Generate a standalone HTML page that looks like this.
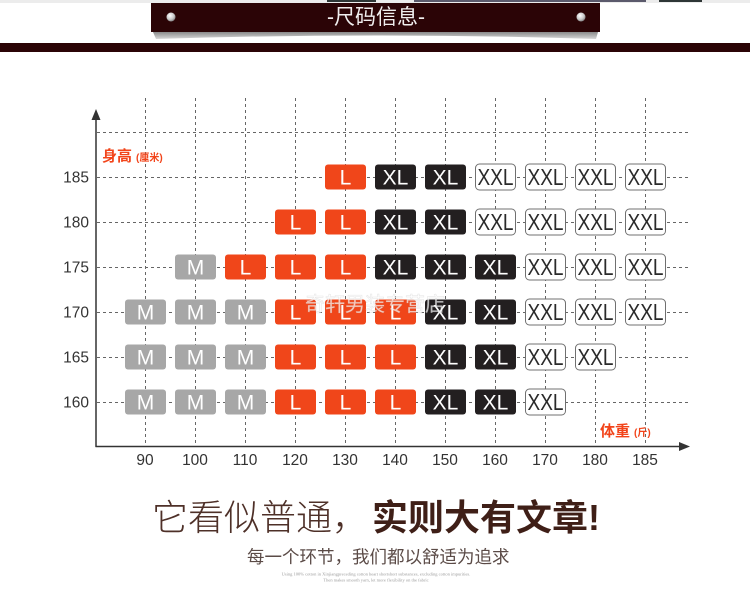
<!DOCTYPE html>
<html><head><meta charset="utf-8"><style>
html,body{margin:0;padding:0;background:#fff;}
#c{position:relative;width:750px;height:600px;overflow:hidden;background:#fff;font-family:"Liberation Sans","Noto Sans CJK SC",sans-serif;}
svg{position:absolute;left:0;top:0;}
.o{fill:#f0461a}.k{fill:#231f20}.g{fill:#a7a7a7}.x{fill:#fff;stroke:#707070;stroke-width:1}
.t{font-family:"Liberation Sans",sans-serif;font-size:21px;text-anchor:middle;fill:#fff}
.tx{font-family:"Liberation Sans",sans-serif;font-size:23px;text-anchor:middle;fill:#2a2a2a}
.lab{font-family:"Liberation Sans",sans-serif;font-size:15.5px;fill:#333}
.abs{position:absolute;white-space:nowrap;line-height:1;}
</style></head><body><div id="c">
<svg width="750" height="600" viewBox="0 0 750 600">
<defs>
<linearGradient id="sh" x1="0" y1="0" x2="0" y2="1"><stop offset="0" stop-color="#8a8a8a"/><stop offset="1" stop-color="#d8d8d8"/></linearGradient>
<radialGradient id="bd" cx="0.4" cy="0.35" r="0.7"><stop offset="0" stop-color="#fff"/><stop offset="0.6" stop-color="#c8c8c8"/><stop offset="1" stop-color="#7a7a7a"/></radialGradient>
</defs>
<rect x="0" y="0" width="750" height="3" fill="#ececec"/>
<rect x="327" y="0" width="49" height="2" fill="#2e3636"/>
<rect x="414" y="0" width="232" height="2" fill="#5b5a6c"/>
<rect x="659" y="0" width="43" height="2" fill="#2e3636"/>
<path d="M153,32 L598,32 L596,39 Q376,32 156,39 Z" fill="url(#sh)"/>
<rect x="151" y="3" width="449" height="29" fill="#2b0406"/>
<circle cx="171" cy="17" r="4.5" fill="url(#bd)"/>
<circle cx="581" cy="17" r="4.5" fill="url(#bd)"/>
<rect x="0" y="43" width="750" height="9" fill="#2b0406"/>

<g stroke="#666" stroke-width="1" stroke-dasharray="3 3" fill="none">
<path d="M97,132.5H688M97,177.5H688M97,222.5H688M97,267.5H688M97,312.5H688M97,357.5H688M97,402.5H688"/>
<path d="M145.5,98V446M195.5,98V446M245.5,98V446M295.5,98V446M345.5,98V446M395.5,98V446M445.5,98V446M495.5,98V446M545.5,98V446M595.5,98V446M645.5,98V446"/>
</g>
<g stroke="#333" stroke-width="1.5">
<line x1="96" y1="115" x2="96" y2="447"/>
<line x1="95.5" y1="446.5" x2="682" y2="446.5"/>
</g>
<polygon points="96,109 91.5,120 100.5,120" fill="#333"/>
<polygon points="690,446.5 679,442 679,451" fill="#333"/>

<g class="lab" text-anchor="end">
<text x="89" y="182.5">185</text>
<text x="89" y="227.5">180</text>
<text x="89" y="272.5">175</text>
<text x="89" y="317.5">170</text>
<text x="89" y="362.5">165</text>
<text x="89" y="407.5">160</text>
</g>
<g class="lab" text-anchor="middle">
<text x="145" y="465">90</text>
<text x="195" y="465">100</text>
<text x="245" y="465">110</text>
<text x="295" y="465">120</text>
<text x="345" y="465">130</text>
<text x="395" y="465">140</text>
<text x="445" y="465">150</text>
<text x="495" y="465">160</text>
<text x="545" y="465">170</text>
<text x="595" y="465">180</text>
<text x="645" y="465">185</text>
</g>
<text x="102" y="161" font-family="Liberation Sans,Noto Sans CJK SC,sans-serif" font-size="15" font-weight="bold" fill="#f2441a">身高<tspan font-size="10" dx="4">(厘米)</tspan></text>
<text x="600" y="436" font-family="Liberation Sans,Noto Sans CJK SC,sans-serif" font-size="15" font-weight="bold" fill="#f2441a">体重<tspan font-size="10" dx="4">(斤)</tspan></text>

<g transform="translate(345.5,177)"><rect class="o" x="-20.5" y="-12.5" width="41" height="25" rx="3"/><text class="t" y="7.5">L</text></g>
<g transform="translate(395.5,177)"><rect class="k" x="-20.5" y="-12.5" width="41" height="25" rx="3"/><text class="t" y="7.5">XL</text></g>
<g transform="translate(445.5,177)"><rect class="k" x="-20.5" y="-12.5" width="41" height="25" rx="3"/><text class="t" y="7.5">XL</text></g>
<g transform="translate(495.5,177)"><rect class="x" x="-20" y="-13" width="40" height="26" rx="4"/><text class="tx" y="8" textLength="36" lengthAdjust="spacingAndGlyphs" x="0">XXL</text></g>
<g transform="translate(545.5,177)"><rect class="x" x="-20" y="-13" width="40" height="26" rx="4"/><text class="tx" y="8" textLength="36" lengthAdjust="spacingAndGlyphs" x="0">XXL</text></g>
<g transform="translate(595.5,177)"><rect class="x" x="-20" y="-13" width="40" height="26" rx="4"/><text class="tx" y="8" textLength="36" lengthAdjust="spacingAndGlyphs" x="0">XXL</text></g>
<g transform="translate(645.5,177)"><rect class="x" x="-20" y="-13" width="40" height="26" rx="4"/><text class="tx" y="8" textLength="36" lengthAdjust="spacingAndGlyphs" x="0">XXL</text></g>

<g transform="translate(295.5,222)"><rect class="o" x="-20.5" y="-12.5" width="41" height="25" rx="3"/><text class="t" y="7.5">L</text></g>
<g transform="translate(345.5,222)"><rect class="o" x="-20.5" y="-12.5" width="41" height="25" rx="3"/><text class="t" y="7.5">L</text></g>
<g transform="translate(395.5,222)"><rect class="k" x="-20.5" y="-12.5" width="41" height="25" rx="3"/><text class="t" y="7.5">XL</text></g>
<g transform="translate(445.5,222)"><rect class="k" x="-20.5" y="-12.5" width="41" height="25" rx="3"/><text class="t" y="7.5">XL</text></g>
<g transform="translate(495.5,222)"><rect class="x" x="-20" y="-13" width="40" height="26" rx="4"/><text class="tx" y="8" textLength="36" lengthAdjust="spacingAndGlyphs" x="0">XXL</text></g>
<g transform="translate(545.5,222)"><rect class="x" x="-20" y="-13" width="40" height="26" rx="4"/><text class="tx" y="8" textLength="36" lengthAdjust="spacingAndGlyphs" x="0">XXL</text></g>
<g transform="translate(595.5,222)"><rect class="x" x="-20" y="-13" width="40" height="26" rx="4"/><text class="tx" y="8" textLength="36" lengthAdjust="spacingAndGlyphs" x="0">XXL</text></g>
<g transform="translate(645.5,222)"><rect class="x" x="-20" y="-13" width="40" height="26" rx="4"/><text class="tx" y="8" textLength="36" lengthAdjust="spacingAndGlyphs" x="0">XXL</text></g>

<g transform="translate(195.5,267)"><rect class="g" x="-20.5" y="-12.5" width="41" height="25" rx="3"/><text class="t" y="7.5">M</text></g>
<g transform="translate(245.5,267)"><rect class="o" x="-20.5" y="-12.5" width="41" height="25" rx="3"/><text class="t" y="7.5">L</text></g>
<g transform="translate(295.5,267)"><rect class="o" x="-20.5" y="-12.5" width="41" height="25" rx="3"/><text class="t" y="7.5">L</text></g>
<g transform="translate(345.5,267)"><rect class="o" x="-20.5" y="-12.5" width="41" height="25" rx="3"/><text class="t" y="7.5">L</text></g>
<g transform="translate(395.5,267)"><rect class="k" x="-20.5" y="-12.5" width="41" height="25" rx="3"/><text class="t" y="7.5">XL</text></g>
<g transform="translate(445.5,267)"><rect class="k" x="-20.5" y="-12.5" width="41" height="25" rx="3"/><text class="t" y="7.5">XL</text></g>
<g transform="translate(495.5,267)"><rect class="k" x="-20.5" y="-12.5" width="41" height="25" rx="3"/><text class="t" y="7.5">XL</text></g>
<g transform="translate(545.5,267)"><rect class="x" x="-20" y="-13" width="40" height="26" rx="4"/><text class="tx" y="8" textLength="36" lengthAdjust="spacingAndGlyphs" x="0">XXL</text></g>
<g transform="translate(595.5,267)"><rect class="x" x="-20" y="-13" width="40" height="26" rx="4"/><text class="tx" y="8" textLength="36" lengthAdjust="spacingAndGlyphs" x="0">XXL</text></g>
<g transform="translate(645.5,267)"><rect class="x" x="-20" y="-13" width="40" height="26" rx="4"/><text class="tx" y="8" textLength="36" lengthAdjust="spacingAndGlyphs" x="0">XXL</text></g>

<g transform="translate(145.5,312)"><rect class="g" x="-20.5" y="-12.5" width="41" height="25" rx="3"/><text class="t" y="7.5">M</text></g>
<g transform="translate(195.5,312)"><rect class="g" x="-20.5" y="-12.5" width="41" height="25" rx="3"/><text class="t" y="7.5">M</text></g>
<g transform="translate(245.5,312)"><rect class="g" x="-20.5" y="-12.5" width="41" height="25" rx="3"/><text class="t" y="7.5">M</text></g>
<g transform="translate(295.5,312)"><rect class="o" x="-20.5" y="-12.5" width="41" height="25" rx="3"/><text class="t" y="7.5">L</text></g>
<g transform="translate(345.5,312)"><rect class="o" x="-20.5" y="-12.5" width="41" height="25" rx="3"/><text class="t" y="7.5">L</text></g>
<g transform="translate(395.5,312)"><rect class="o" x="-20.5" y="-12.5" width="41" height="25" rx="3"/><text class="t" y="7.5">L</text></g>
<g transform="translate(445.5,312)"><rect class="k" x="-20.5" y="-12.5" width="41" height="25" rx="3"/><text class="t" y="7.5">XL</text></g>
<g transform="translate(495.5,312)"><rect class="k" x="-20.5" y="-12.5" width="41" height="25" rx="3"/><text class="t" y="7.5">XL</text></g>
<g transform="translate(545.5,312)"><rect class="x" x="-20" y="-13" width="40" height="26" rx="4"/><text class="tx" y="8" textLength="36" lengthAdjust="spacingAndGlyphs" x="0">XXL</text></g>
<g transform="translate(595.5,312)"><rect class="x" x="-20" y="-13" width="40" height="26" rx="4"/><text class="tx" y="8" textLength="36" lengthAdjust="spacingAndGlyphs" x="0">XXL</text></g>
<g transform="translate(645.5,312)"><rect class="x" x="-20" y="-13" width="40" height="26" rx="4"/><text class="tx" y="8" textLength="36" lengthAdjust="spacingAndGlyphs" x="0">XXL</text></g>

<g transform="translate(145.5,357)"><rect class="g" x="-20.5" y="-12.5" width="41" height="25" rx="3"/><text class="t" y="7.5">M</text></g>
<g transform="translate(195.5,357)"><rect class="g" x="-20.5" y="-12.5" width="41" height="25" rx="3"/><text class="t" y="7.5">M</text></g>
<g transform="translate(245.5,357)"><rect class="g" x="-20.5" y="-12.5" width="41" height="25" rx="3"/><text class="t" y="7.5">M</text></g>
<g transform="translate(295.5,357)"><rect class="o" x="-20.5" y="-12.5" width="41" height="25" rx="3"/><text class="t" y="7.5">L</text></g>
<g transform="translate(345.5,357)"><rect class="o" x="-20.5" y="-12.5" width="41" height="25" rx="3"/><text class="t" y="7.5">L</text></g>
<g transform="translate(395.5,357)"><rect class="o" x="-20.5" y="-12.5" width="41" height="25" rx="3"/><text class="t" y="7.5">L</text></g>
<g transform="translate(445.5,357)"><rect class="k" x="-20.5" y="-12.5" width="41" height="25" rx="3"/><text class="t" y="7.5">XL</text></g>
<g transform="translate(495.5,357)"><rect class="k" x="-20.5" y="-12.5" width="41" height="25" rx="3"/><text class="t" y="7.5">XL</text></g>
<g transform="translate(545.5,357)"><rect class="x" x="-20" y="-13" width="40" height="26" rx="4"/><text class="tx" y="8" textLength="36" lengthAdjust="spacingAndGlyphs" x="0">XXL</text></g>
<g transform="translate(595.5,357)"><rect class="x" x="-20" y="-13" width="40" height="26" rx="4"/><text class="tx" y="8" textLength="36" lengthAdjust="spacingAndGlyphs" x="0">XXL</text></g>

<g transform="translate(145.5,402)"><rect class="g" x="-20.5" y="-12.5" width="41" height="25" rx="3"/><text class="t" y="7.5">M</text></g>
<g transform="translate(195.5,402)"><rect class="g" x="-20.5" y="-12.5" width="41" height="25" rx="3"/><text class="t" y="7.5">M</text></g>
<g transform="translate(245.5,402)"><rect class="g" x="-20.5" y="-12.5" width="41" height="25" rx="3"/><text class="t" y="7.5">M</text></g>
<g transform="translate(295.5,402)"><rect class="o" x="-20.5" y="-12.5" width="41" height="25" rx="3"/><text class="t" y="7.5">L</text></g>
<g transform="translate(345.5,402)"><rect class="o" x="-20.5" y="-12.5" width="41" height="25" rx="3"/><text class="t" y="7.5">L</text></g>
<g transform="translate(395.5,402)"><rect class="o" x="-20.5" y="-12.5" width="41" height="25" rx="3"/><text class="t" y="7.5">L</text></g>
<g transform="translate(445.5,402)"><rect class="k" x="-20.5" y="-12.5" width="41" height="25" rx="3"/><text class="t" y="7.5">XL</text></g>
<g transform="translate(495.5,402)"><rect class="k" x="-20.5" y="-12.5" width="41" height="25" rx="3"/><text class="t" y="7.5">XL</text></g>
<g transform="translate(545.5,402)"><rect class="x" x="-20" y="-13" width="40" height="26" rx="4"/><text class="tx" y="8" textLength="36" lengthAdjust="spacingAndGlyphs" x="0">XXL</text></g>

<text x="375" y="311" text-anchor="middle" font-family="Noto Sans CJK SC,sans-serif" font-size="20" fill="#ffffff" fill-opacity="0.7" stroke="#bbbbbb" stroke-opacity="0.35" stroke-width="0.6">奇轩男装专营店</text>
</svg>

<div class="abs" style="left:326px;top:7px;width:100px;text-align:center;font-size:21px;color:#f0eeee;font-family:'Liberation Sans','Noto Sans CJK SC',sans-serif;">-尺码信息-</div>

<div class="abs" style="left:152px;top:500px;font-size:36px;color:#4e3028;font-weight:300;font-family:'Liberation Sans','Noto Sans CJK SC',sans-serif;">它看似普通，</div>
<div class="abs" style="left:372px;top:500px;font-size:36px;color:#3f1f17;font-weight:bold;font-family:'Liberation Sans','Noto Sans CJK SC',sans-serif;">实则大有文章!</div>
<div class="abs" style="left:247px;top:549px;font-size:17.5px;color:#5b4b47;font-family:'Liberation Sans','Noto Sans CJK SC',sans-serif;">每一个环节，我们都以舒适为追求</div>
<div class="abs" style="left:126px;top:571px;width:500px;text-align:center;font-size:9px;color:#9a9a9a;transform:scale(0.5);transform-origin:250px 0;font-family:'Liberation Serif',serif;line-height:12px;">Using 100% cotton in Xinjiangpreceding cotton heart shortshort substances, excluding cotton impurities.<br>Then makes smooth yarn, let more flexibility on the fabric</div>
</div></body></html>
